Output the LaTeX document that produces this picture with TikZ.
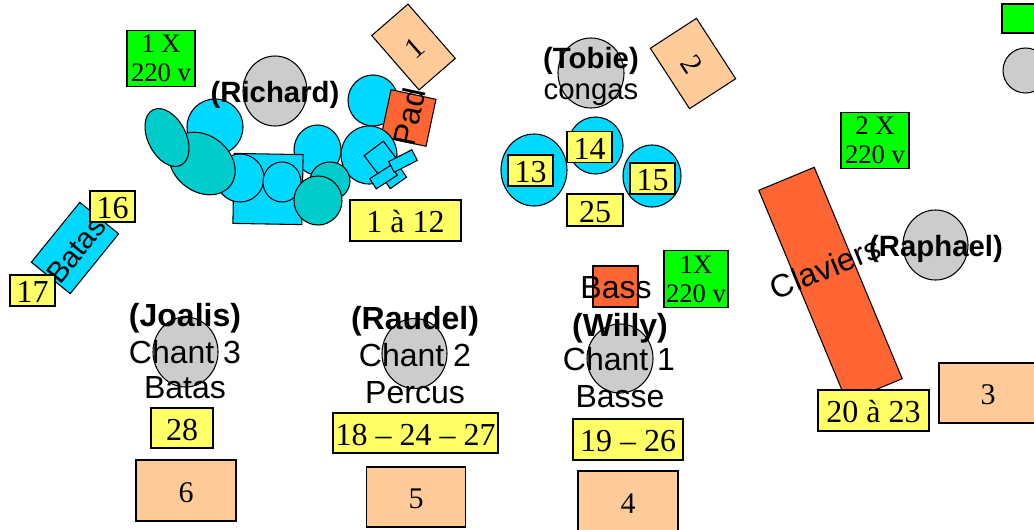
\documentclass[tikz,border=0pt]{standalone}
\usepackage{fontspec}
\setmainfont{Liberation Serif}
\newfontfamily\arialf{Liberation Sans}
\usetikzlibrary{shapes.geometric}
\definecolor{cblue}{HTML}{00D9FF}
\definecolor{cteal}{HTML}{00CCCC}
\definecolor{corange}{HTML}{FF6633}
\definecolor{cpeach}{HTML}{FFCC99}
\definecolor{cyell}{HTML}{FFFF66}
\definecolor{cgreen}{HTML}{00FF00}
\definecolor{cgray}{HTML}{CCCCCC}
\tikzset{
  x=0.75pt,y=-0.75pt,
  sz/.style 2 args={minimum width=#1*0.75pt,minimum height=#2*0.75pt},
  shp/.style={draw=black,line width=0.8pt,inner sep=0pt,outer sep=0pt},
  pbox/.style={shp,rectangle,fill=cpeach,text height=17.4pt,text depth=0pt,font=\fontsize{22.5pt}{26pt}\selectfont},
  ybox/.style={shp,rectangle,fill=cyell,text height=18.4pt,text depth=0pt,font=\fontsize{24pt}{26pt}\selectfont},
  gbox/.style={shp,rectangle,fill=cgreen,align=center,font=\fontsize{20pt}{21.5pt}\selectfont},
  obox/.style={shp,rectangle,fill=corange},
  bbox/.style={shp,rectangle,fill=cblue},
  disc/.style={shp,ellipse,fill=cblue},
  tdisc/.style={shp,ellipse,fill=cteal},
  head/.style={shp,ellipse,fill=cgray},
  lab/.style={inner sep=0pt,font=\arialf\fontsize{22pt}{26pt}\selectfont},
  labl/.style={inner sep=0pt,font=\arialf\fontsize{24pt}{26pt}\selectfont},
  blab/.style={inner sep=0pt,font=\arialf\bfseries\fontsize{22pt}{26pt}\selectfont},
  blabl/.style={inner sep=0pt,font=\arialf\bfseries\fontsize{24pt}{26pt}\selectfont},
}
\begin{document}
\begin{tikzpicture}
\useasboundingbox (0,0) rectangle (1034,529);
\begin{scope}
\clip (0,0) rectangle (1034,529);
% power boxes
\node[gbox,sz={68}{56}] (g1) at (161,58.5) {1 X\\220 v};
\node[gbox,sz={68}{56}] (g2) at (875,140.5) {2 X\\220 v};
\node[gbox,sz={64}{57}] (g3) at (696,279) {1X\\220 v};
\node[gbox,sz={68}{29}] (g4) at (1036,18.5) {};
\node[head,sz={45}{45}] (h0) at (1025.5,70.5) {};
% peach
\node[pbox,sz={48}{72},rotate=41] (p1) at (413.5,47) {1};
\node[pbox,sz={72}{55},rotate=-57] (p2) at (693,63.5) {2};
\node[pbox,sz={98}{60}] (p3) at (988,393) {3};
\node[pbox,sz={100}{61}] (p4) at (628,501.5) {4};
\node[pbox,sz={99}{60}] (p5) at (416,497) {5};
\node[pbox,sz={100}{61}] (p6) at (186,490.5) {6};
% drum kit
\node[head,sz={64}{70}] (hr) at (275,91) {};
\node[disc,sz={50}{51}] (d1) at (373,100.5) {};
\node[obox,sz={46}{48},rotate=-12] (pad) at (408.5,118) {};
\node[disc,sz={56}{58}] (d2) at (369,155) {};
\node[disc,sz={47}{50}] (d3) at (317.5,150) {};
\node[disc,sz={56}{56}] (d4) at (215,127) {};
\node[bbox,sz={69}{70},rotate=-1] (sq) at (268,189) {};
\node[disc,sz={48}{48}] (d5) at (240,178) {};
\node[disc,sz={38}{40}] (d6) at (282,182) {};
\node[tdisc,sz={40}{38}] (t1) at (330,181) {};
\node[tdisc,sz={48}{49}] (t2) at (318,200.5) {};
\node[tdisc,sz={72}{56},rotate=-38] (t3) at (202,163.5) {};
\node[tdisc,sz={62}{38},rotate=-63] (t4) at (167,137.5) {};
\node[bbox,sz={20}{12},rotate=35] (s3) at (395,178) {};
\node[bbox,sz={24}{24},rotate=37] (s1) at (381,158) {};
\node[bbox,sz={25}{12},rotate=33] (s2) at (383.5,177) {};
\node[bbox,sz={26}{12},rotate=27] (s4) at (403,161) {};
\node[labl,rotate=78] (padt) at (409,117) {Pad};
\node[blab] (tr) at (275,95) {(Richard)};
\node[ybox,sz={111}{41}] (y1) at (405.5,220.5) {1 à 12};
% batas
\node[bbox,sz={77}{50},rotate=51] (bat) at (75,248) {};
\node[lab,rotate=51] (batt) at (76,250) {Batas};
\node[ybox,sz={45}{31}] (y16) at (112.5,206.5) {16};
\node[ybox,sz={45}{31}] (y17) at (32.5,290.5) {17};
% congas
\node[head,sz={66}{70}] (ht) at (591,73) {};
\node[blab] (tt) at (591,61) {(Tobie)};
\node[lab] (tc) at (591,95) {congas};
\node[disc,sz={66}{72}] (c13) at (534,170) {};
\node[disc,sz={55}{57}] (c14) at (595.5,145.5) {};
\node[disc,sz={58}{62}] (c15) at (652,176) {};
\node[ybox,sz={45}{31}] (y13) at (530.5,170.5) {13};
\node[ybox,sz={45}{31}] (y14) at (589.5,147) {14};
\node[ybox,sz={45}{31}] (y15) at (652.5,178.5) {15};
\node[ybox,sz={56}{32}] (y25) at (595,210) {25};
% singers
\node[head,sz={65}{70}] (hj) at (185.5,352) {};
\node[blabl] (tj) at (185,318) {(Joalis)};
\node[labl] (tj2) at (185,352) {Chant 3};
\node[labl] (tj3) at (185,388) {Batas};
\node[ybox,sz={62}{40}] (y28) at (182,428) {28};
\node[head,sz={65}{70}] (hu) at (414.5,353.5) {};
\node[blabl] (tu) at (415,321) {(Raudel)};
\node[labl] (tu2) at (415,355) {Chant 2};
\node[labl] (tu3) at (415,392.5) {Percus};
\node[ybox,sz={165}{40}] (y18) at (415.5,433) {18 – 24 – 27};
\node[obox,sz={45}{41}] (bs) at (615.5,286.5) {};
\node[labl] (bst) at (616,288) {Bass};
\node[head,sz={66}{69}] (hw) at (620,358.5) {};
\node[blabl] (tw) at (620,328) {(Willy)};
\node[labl] (tw2) at (619,359) {Chant 1};
\node[labl] (tw3) at (620,397) {Basse};
\node[ybox,sz={110}{41}] (y19) at (628,439.5) {19 – 26};
% keyboard
\node[obox,sz={60}{229},rotate=22.6] (kb) at (830.5,284.5) {};
\node[labl,rotate=22] (kbt) at (825,268) {Claviers};
\node[head,sz={65}{70}] (hp) at (935.5,245) {};
\node[blab] (tp) at (936,248.5) {(Raphael)};
\node[ybox,sz={111}{41}] (y20) at (873.5,410.5) {20 à 23};
\end{scope}
\end{tikzpicture}
\end{document}
